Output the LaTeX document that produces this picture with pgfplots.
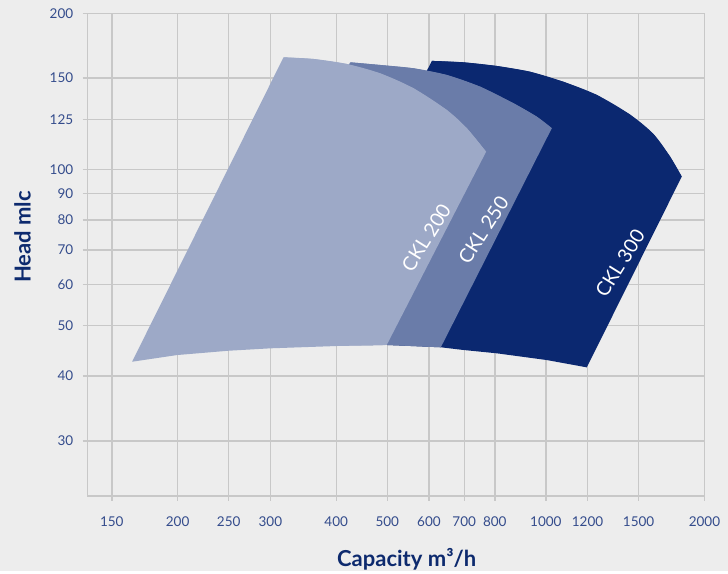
\documentclass[border=0pt]{standalone}
\usepackage{fontspec}
\setmainfont{Lato}
\usepackage{pgfplots}
\pgfplotsset{compat=1.18}

\definecolor{bgc}{HTML}{EDEDED}
\definecolor{gridc}{HTML}{C8C8C8}
\definecolor{tickc}{HTML}{344C8C}
\definecolor{labc}{HTML}{0D2A6E}
\definecolor{ckl200}{HTML}{9DA9C7}
\definecolor{ckl250}{HTML}{6A7CA9}
\definecolor{ckl300}{HTML}{0B2870}

% top edge of each field
\pgfplotstableread{
x y
607.6 161.9
697.6 160.9
807.2 158.3
933.6 154.3
1079.8 147.6
1249.6 139.2
1444.8 127.6
1600.0 117.1
1721.1 105.9
1811.3 96.9
}\topthree
\pgfplotstableread{
x y
425.2 160.9
484.8 159.0
560.8 156.7
648.7 152.1
750.6 144.4
867.8 134.2
961.3 126.4
1026.4 120.1
}\toptwo
\pgfplotstableread{
x y
317.7 164.5
362.2 163.3
419.1 159.7
484.8 153.2
560.8 143.4
648.7 130.2
708.0 120.1
770.2 108.2
}\topone

\begin{document}
\begin{tikzpicture}[x=1pt,y=1pt]
\fill[bgc] (0,0) rectangle (728,571);
\begin{axis}[
  at={(87.7pt,75pt)}, anchor=south west,
  scale only axis, width=616.7pt, height=482.7pt,
  xmode=log, ymode=log,
  xmin=135, xmax=2000, ymin=23.5, ymax=200,
  xtick={150,200,250,300,400,500,600,700,800,1000,1200,1500,2000},
  xticklabels={150,200,250,300,400,500,600,700,800,1000,1200,1500,2000},
  ytick={30,40,50,60,70,80,90,100,125,150,200},
  yticklabels={30,40,50,60,70,80,90,100,125,150,200},
  minor xtick={}, minor ytick={},
  grid=major,
  major grid style={draw=gridc, line width=1.4pt},
  axis line style={draw=gridc, line width=1.4pt},
  tick style={draw=gridc, line width=1.4pt},
  tick align=outside, xtick pos=bottom, ytick pos=left,
  major tick length=5pt,
  ticklabel style={font=\fontsize{13.5}{16}\selectfont, text=tickc},
  xticklabel style={yshift=-12pt},
  yticklabel style={xshift=-6pt},
]

% CKL 300
\addplot[draw=none, fill=ckl300] coordinates {
  (607.6,161.9) (697.6,160.9) (807.2,158.3) (933.6,154.3)
  (1079.8,147.6) (1249.6,139.2) (1444.8,127.6) (1600.0,117.1)
  (1721.1,105.9) (1811.3,96.9)
  (1196.0,41.58) (1004.2,42.95) (807.2,44.25) (697.6,44.91)
  (631.9,45.45) (498.8,45.92) (401.3,45.9) (323.0,45.9)
} -- cycle;
\addplot[draw=none, fill=ckl300, smooth] table {\topthree} -- cycle;

% CKL 250
\addplot[draw=none, fill=ckl250] coordinates {
  (425.2,160.9) (484.8,159.0) (560.8,156.7) (648.7,152.1)
  (750.6,144.4) (867.8,134.2) (961.3,126.4) (1026.4,120.1)
  (631.9,45.45) (498.8,45.92) (401.3,45.85) (299.8,45.45) (227.1,45.3)
} -- cycle;
\addplot[draw=none, fill=ckl250, smooth] table {\toptwo} -- cycle;

% CKL 200
\addplot[draw=none, fill=ckl200] coordinates {
  (317.7,164.5) (362.2,163.3) (419.1,159.7) (484.8,153.2)
  (560.8,143.4) (648.7,130.2) (708.0,120.1) (770.2,108.2)
  (498.8,45.92) (401.3,45.71) (299.8,45.24) (249.8,44.76)
  (199.4,43.91) (163.9,42.63)
} -- cycle;
\addplot[draw=none, fill=ckl200, smooth] table {\topone} -- cycle;

\node[text=white, rotate=58, font=\fontsize{19.5}{22}\selectfont] at (axis cs:592.8,73.96) {CKL 200};
\node[text=white, rotate=57, font=\fontsize{19.5}{22}\selectfont] at (axis cs:761.2,76.47) {CKL 250};
\node[text=white, rotate=58, font=\fontsize{19.5}{22}\selectfont] at (axis cs:1383.4,65.96) {CKL 300};
\end{axis}
\node[anchor=base, text=labc, font=\bfseries\fontsize{22}{26}\selectfont] at (406.7,4.3) {Capacity m³/h};
\node[anchor=base, rotate=90, text=labc, font=\bfseries\fontsize{22}{26}\selectfont] at (30.7,334) {Head mlc};
\end{tikzpicture}
\end{document}
